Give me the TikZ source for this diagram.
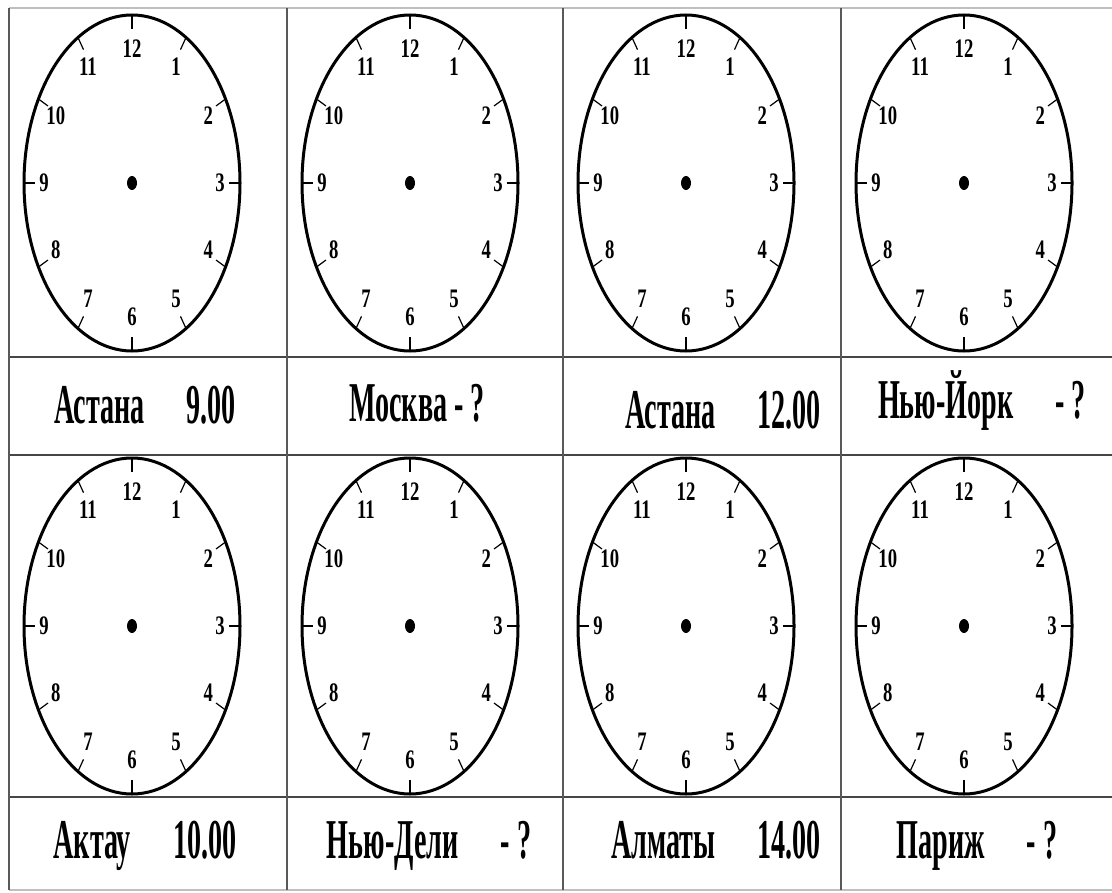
\documentclass[tikz,border=0pt]{standalone}
\usepackage{fontspec}
\setmainfont{Liberation Serif}
\newcommand{\squeeze}[2]{\scalebox{#1}[1]{#2}}

\begin{document}
\begin{tikzpicture}[x=0.25mm, y=0.25mm,
		rule/.style={gray!55!black, line width=0.6mm},
		thinrule/.style={gray!70!black, line width=0.35mm},
		rim/.style={black, line width=0.75mm},
		hourtick/.style={black, line width=0.3mm},
		hournum/.style={font=\bfseries\fontsize{19}{19}\selectfont, inner sep=0pt},
		citylabel/.style={font=\bfseries\fontsize{40}{40}\selectfont, inner sep=0pt, anchor=base}]
		\useasboundingbox (0,0) rectangle (1112,-892);

		% table
		\draw[thinrule, gray!50] (9,-8) -- (1112,-8);
		\draw[rule] (9,-357) -- (1112,-357);
		\draw[rule] (9,-455) -- (1112,-455);
		\draw[rule] (9,-797) -- (1112,-797);
		\draw[thinrule, gray!50] (9,-890) -- (1112,-890);
		\foreach \x in {9,287,563,841}
			\draw[thinrule] (\x,-8) -- (\x,-890);

		% clock faces
		\foreach \cx [count=\i] in {132,410,686,964}
			\foreach \cy [count=\j] in {-183,-626} {
				\begin{scope}[shift={(\cx,\cy)}]
					\coordinate (clock\i\j) at (0,0);
					\draw[rim] (clock\i\j) ellipse [x radius=108, y radius=168];
					\fill (clock\i\j) ellipse [x radius=5, y radius=7];
					\foreach \h in {1,...,12} {
						\draw[hourtick] ({108*cos(90-30*\h)},{168*sin(90-30*\h)}) -- ({97*cos(90-30*\h)},{154*sin(90-30*\h)});
						\node[hournum] (num\i\j-\h) at ({88*cos(90-30*\h)},{134*sin(90-30*\h)}) {\squeeze{0.7}{\h}};
					}
				\end{scope}
			}

		% city labels
		\node[citylabel] (astana1) at (145,-423) {\squeeze{0.5}{Астана\hspace{1.5em}9.00}};
		\node[citylabel] (moskva) at (417,-421) {\squeeze{0.5}{Москва - ?}};
		\node[citylabel] (astana2) at (723,-428) {\squeeze{0.5}{Астана\hspace{1.5em}12.00}};
		\node[citylabel] (newyork) at (982,-418) {\squeeze{0.5}{Нью-Йорк\hspace{1.5em}- ?}};
		\node[citylabel] (aktau) at (145,-858) {\squeeze{0.5}{Актау\hspace{1.5em}10.00}};
		\node[citylabel] (delhi) at (429,-858) {\squeeze{0.5}{Нью-Дели\hspace{1.5em}- ?}};
		\node[citylabel] (almaty) at (716,-858) {\squeeze{0.5}{Алматы\hspace{1.5em}14.00}};
		\node[citylabel] (paris) at (977,-858) {\squeeze{0.5}{Париж\hspace{1.5em}- ?}};
	\end{tikzpicture}
\end{document}
